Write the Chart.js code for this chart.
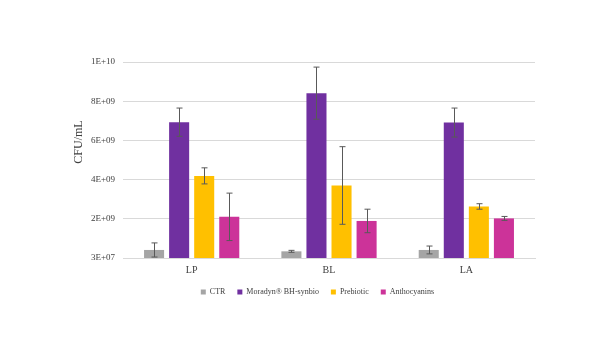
<!DOCTYPE html>
<html>
<head>
<meta charset="utf-8">
<script src="https://cdn.jsdelivr.net/npm/chart.js@4.4.1/dist/chart.umd.min.js"></script>
<style>
  html, body { margin: 0; padding: 0; background: #fff; }
  #wrap { width: 600px; height: 338px; }
</style>
</head>
<body>
<div id="wrap"><canvas id="chart"></canvas></div>
<script>
// bacterial counts per strain and treatment
const strains = ["LP", "BL", "LA"];
const seriesNames = ["CTR", "Moradyn® BH-synbio", "Prebiotic", "Anthocyanins"];
const ctr = [4.4e8, 3.7e8, 4.4e8];
const moradyn = [6.96e9, 8.44e9, 6.94e9];
const prebiotic = [4.22e9, 3.73e9, 2.66e9];
const anthocyanins = [2.13e9, 1.92e9, 2.05e9];
// standard deviations
const ctrErr = [3.6e8, 5e7, 2e8];
const moradynErr = [7.2e8, 1.33e9, 7.4e8];
const prebioticErr = [4.1e8, 1.98e9, 1.4e8];
const anthocyaninsErr = [1.21e9, 6.0e8, 1.0e8];
// y axis: min 3E+07, major unit 2E+09
const yTicks = [3e7, 2.03e9, 4.03e9, 6.03e9, 8.03e9, 1.003e10];
const yTickLabels = ["3E+07", "2E+09", "4E+09", "6E+09", "8E+09", "1E+10"];

const colors = ["#A5A5A5", "#7030A0", "#FFC000", "#CC3399"];
const values = [ctr, moradyn, prebiotic, anthocyanins];
const errors = [ctrErr, moradynErr, prebioticErr, anthocyaninsErr];

const serif = "'Liberation Serif', 'Times New Roman', serif";

// draws +/- error whiskers on top of each bar
const errorBars = {
  id: "errorBars",
  afterDatasetsDraw(chart) {
    const ctx = chart.ctx;
    const y = chart.scales.y;
    ctx.save();
    ctx.strokeStyle = "#595959";
    ctx.lineWidth = 1;
    chart.data.datasets.forEach((ds, i) => {
      const meta = chart.getDatasetMeta(i);
      meta.data.forEach((bar, j) => {
        const v = ds.data[j];
        const e = ds.errors[j];
        const x = Math.round(bar.x) + 0.5;
        const yTop = y.getPixelForValue(v + e);
        const yBot = y.getPixelForValue(Math.max(v - e, y.min));
        ctx.beginPath();
        ctx.moveTo(x, yTop);
        ctx.lineTo(x, yBot);
        ctx.moveTo(x - 3, yTop);
        ctx.lineTo(x + 3, yTop);
        ctx.moveTo(x - 3, yBot);
        ctx.lineTo(x + 3, yBot);
        ctx.stroke();
      });
    });
    ctx.restore();
  }
};

// nudge the legend a little to the right of the page centre
const legendShift = {
  id: "legendShift",
  afterLayout(chart) {
    chart.legend.left += 14;
    chart.legend.right += 14;
  }
};

new Chart(document.getElementById("chart"), {
  type: "bar",
  data: {
    labels: strains,
    datasets: seriesNames.map((name, i) => ({
      label: name,
      data: values[i],
      errors: errors[i],
      backgroundColor: colors[i],
      categoryPercentage: 0.73,
      barPercentage: 0.8
    }))
  },
  options: {
    responsive: true,
    maintainAspectRatio: false,
    animation: false,
    layout: { padding: { left: 72, right: 65, top: 62, bottom: 32 } },
    plugins: {
      tooltip: { enabled: false },
      legend: {
        position: "bottom",
        labels: {
          boxWidth: 5,
          boxHeight: 5,
          padding: 12,
          color: "#404040",
          font: { family: serif, size: 8 }
        }
      }
    },
    scales: {
      x: {
        afterFit(scale) { scale.height += 2; },
        grid: { display: false },
        border: { display: true, color: "#D9D9D9" },
        ticks: { color: "#404040", font: { family: serif, size: 10 }, padding: -2 }
      },
      y: {
        min: 3e7,
        max: 1.003e10,
        afterFit(scale) { scale.width = 51; },
        afterBuildTicks(scale) { scale.ticks = yTicks.map(v => ({ value: v })); },
        grid: { color: "#D9D9D9", drawTicks: false },
        border: { display: false },
        ticks: {
          color: "#404040",
          padding: 8,
          font: { family: serif, size: 9 },
          callback: (v, i) => yTickLabels[i]
        },
        title: {
          display: true,
          text: "            CFU/mL",
          color: "#404040",
          padding: 0,
          font: { family: serif, size: 12 }
        }
      }
    }
  },
  plugins: [errorBars, legendShift]
});
</script>
</body>
</html>
